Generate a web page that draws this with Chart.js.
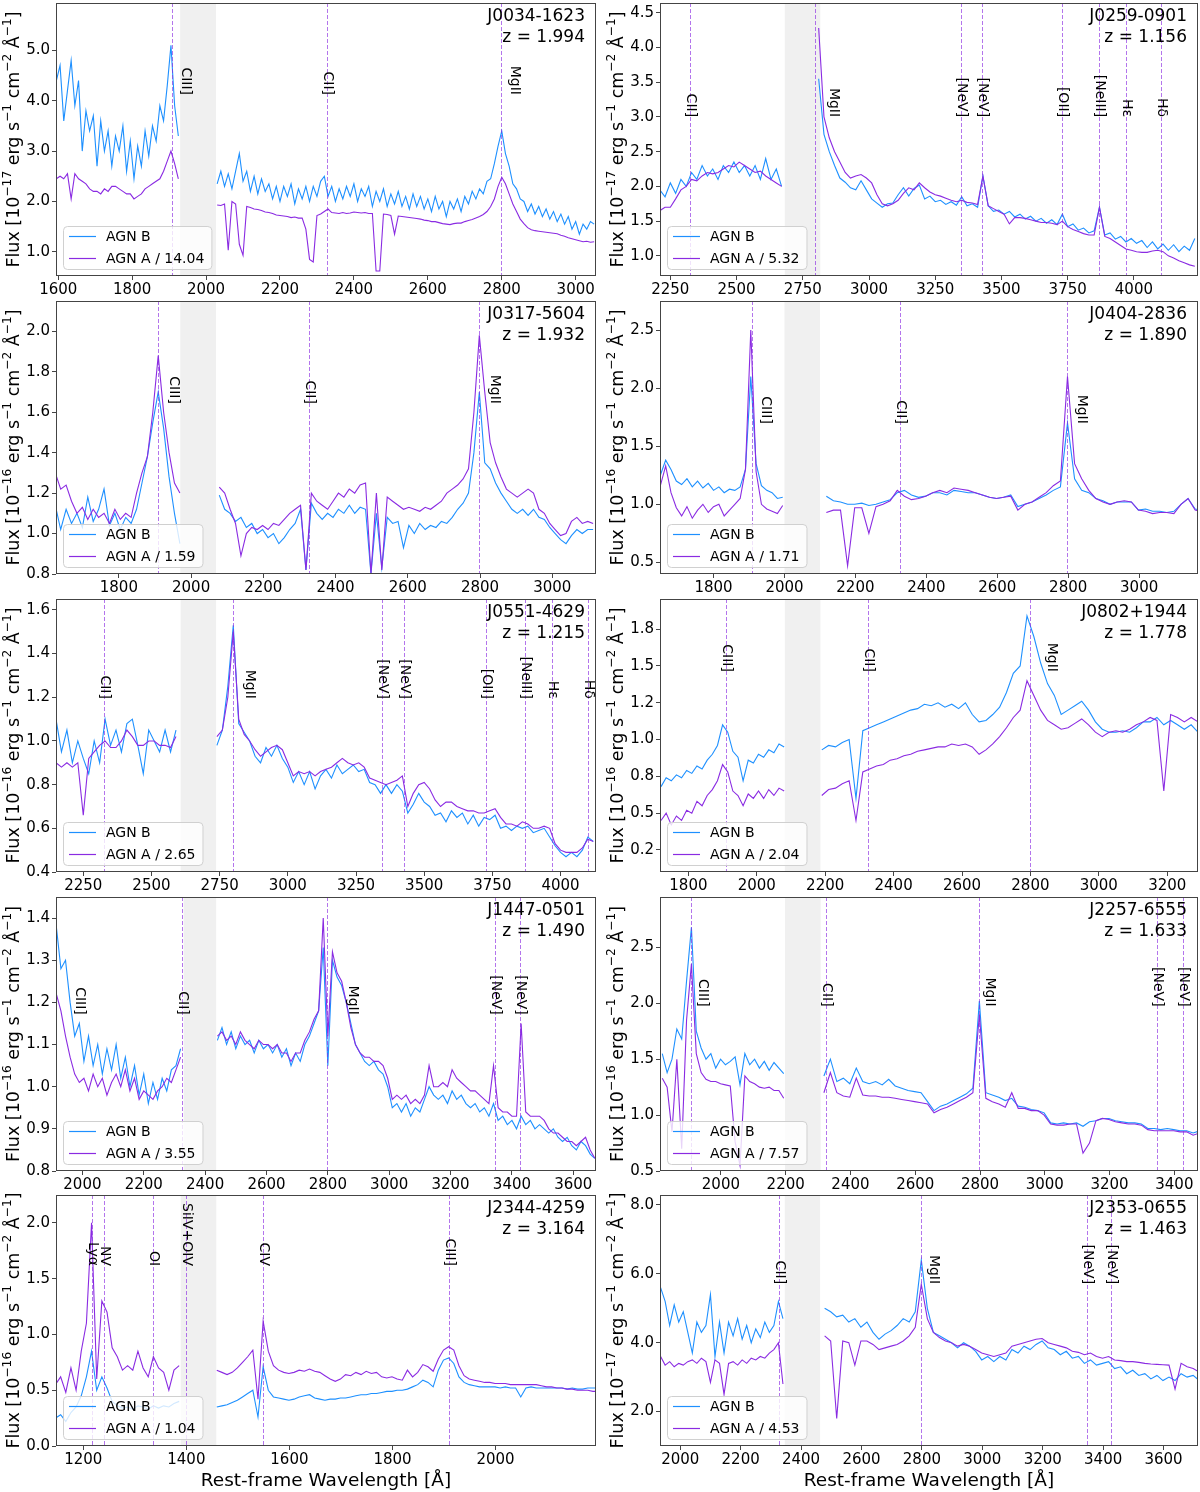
<!DOCTYPE html>
<html>
<head>
<meta charset="utf-8">
<script src="https://cdn.jsdelivr.net/npm/chart.js@4.4.1/dist/chart.umd.min.js"></script>
<style>
html, body { margin: 0; padding: 0; background: #fff; }
#wrap { position: relative; width: 1200px; height: 1492px; }
canvas { position: absolute; }
</style>
</head>
<body>
<div id="wrap"></div>
<script>
// ---- J0034-1623 ----
const J0034_GRID = [[1595, 10], [2030, 10]];
const J0034_B1 = [4.4,4.7,3.6,4.2,4.8,3.9,4.4,3.0,3.8,3.4, 3.7,2.7,3.6,3.0,3.4,2.7,3.3,3.0,3.5,2.6, 3.2,2.45,3.1,2.7,3.4,2.9,3.5,3.2,3.9,3.6, 4.3,5.1,3.9,3.3];
const J0034_A1 = [2.45,2.5,2.45,2.55,2.05,2.55,2.45,2.4,2.35,2.25, 2.2,2.2,2.15,2.25,2.2,2.3,2.3,2.25,2.2,2.15, 2.15,2.05,2.1,2.15,2.25,2.3,2.35,2.4,2.45,2.6, 2.8,3.0,2.75,2.45];
const J0034_B2 = [2.35,2.6,2.3,2.55,2.25,2.6,2.95,2.4,2.6,2.2, 2.5,2.15,2.45,2.2,2.35,2.05,2.3,2.0,2.3,2.1, 2.35,1.95,2.25,2.05,2.3,2.0,2.3,2.1,2.4,2.5, 2.1,2.3,2.0,2.25,2.05,2.3,2.1,2.35,2.0,2.25, 2.1,2.3,1.9,2.2,2.0,2.25,1.9,2.15,1.95,2.2, 1.9,2.1,1.85,2.15,1.9,2.1,1.85,2.05,1.8,2.1, 1.85,2.0,1.7,2.0,1.85,2.05,1.8,2.1,1.95,2.2, 2.05,2.25,2.15,2.4,2.45,2.75,3.1,3.4,2.95,2.7, 2.35,2.25,2.05,2.0,1.8,1.95,1.75,1.9,1.7,1.85, 1.65,1.8,1.6,1.75,1.55,1.7,1.45,1.6,1.35,1.55, 1.45,1.6,1.55];
const J0034_A2 = [1.93,1.92,1.95,1.03,2.0,1.95,1.15,0.93,1.9,1.88, 1.85,1.84,1.82,1.79,1.78,1.76,1.73,1.72,1.71,1.7, 1.68,1.69,1.67,1.67,1.45,0.85,0.8,1.72,1.75,1.8, 1.85,1.78,1.77,1.76,1.78,1.76,1.77,1.79,1.78,1.77, 1.78,1.76,1.76,0.62,0.62,1.75,1.74,1.72,1.35,1.71, 1.7,1.69,1.68,1.67,1.66,1.65,1.63,1.62,1.6,1.6, 1.58,1.56,1.55,1.54,1.56,1.57,1.57,1.6,1.62,1.64, 1.67,1.7,1.74,1.8,1.9,2.05,2.3,2.48,2.35,2.15, 1.95,1.8,1.65,1.56,1.48,1.44,1.42,1.41,1.4,1.39, 1.38,1.37,1.36,1.33,1.31,1.28,1.26,1.24,1.22,1.2, 1.21,1.19,1.2];
const J0034_XT = [1600, 1800, 2000, 2200, 2400, 2600, 2800, 3000];
const J0034_YT = [1, 2, 3, 4, 5];
const J0034_YL = ['1.0', '2.0', '3.0', '4.0', '5.0'];
const J0034_LINES = [[1909, 'CIII]', 13], [2326, 'CII]', 0], [2798, 'MgII', 13]];

// ---- J0259-0901 ----
const J0259_GRID = [[2210, 20], [2810, 20]];
const J0259_B1 = [1.95,1.85,2.05,1.9,2.1,2.0,2.2,2.1,2.3,2.15, 2.25,2.1,2.3,2.2,2.35,2.2,2.3,2.15,2.3,2.1, 2.4,2.1,2.25,2.0];
const J0259_A1 = [1.65,1.7,1.7,1.82,1.95,2.0,2.1,2.08,2.15,2.2, 2.18,2.2,2.25,2.3,2.28,2.35,2.3,2.25,2.2,2.22, 2.15,2.1,2.05,2.0];
const J0259_B2 = [3.55,2.75,2.5,2.3,2.12,2.06,1.98,1.95,2.08,1.95, 1.82,1.76,1.7,1.75,1.76,1.88,1.98,1.86,1.97,2.02, 1.82,1.86,1.78,1.8,1.74,1.78,1.73,1.85,1.72,1.75, 1.7,2.15,1.72,1.64,1.66,1.6,1.64,1.56,1.6,1.53, 1.57,1.5,1.54,1.47,1.52,1.45,1.6,1.42,1.46,1.37, 1.4,1.33,1.36,1.7,1.3,1.33,1.24,1.28,1.2,1.25, 1.18,1.22,1.12,1.2,1.1,1.17,1.08,1.16,1.06,1.14, 1.08,1.25];
const J0259_A2 = [4.28,3.0,2.7,2.5,2.35,2.2,2.12,2.15,2.17,2.12, 2.05,1.88,1.75,1.72,1.75,1.8,1.9,1.98,1.95,2.05, 1.98,1.92,1.88,1.86,1.83,1.8,1.78,1.8,1.77,1.76, 1.74,2.15,1.72,1.68,1.64,1.6,1.46,1.55,1.55,1.54, 1.52,1.5,1.48,1.48,1.47,1.45,1.5,1.42,1.38,1.35, 1.32,1.3,1.3,1.7,1.28,1.25,1.2,1.15,1.1,1.08, 1.06,1.05,1.05,1.07,1.08,1.06,1.0,0.97,0.93,0.9, 0.87,0.85];
const J0259_XT = [2250, 2500, 2750, 3000, 3250, 3500, 3750, 4000];
const J0259_YT = [1.0, 1.5, 2.0, 2.5, 3.0, 3.5, 4.0, 4.5];
const J0259_YL = ['1.0', '1.5', '2.0', '2.5', '3.0', '3.5', '4.0', '4.5'];
const J0259_LINES = [[2326, 'CII]', 0], [2798, 'MgII', 18], [3346, '[NeV]', 0], [3426, '[NeV]', 0], [3727, '[OII]', 0], [3869, '[NeIII]', 0], [3970, 'H\u03b5', 0], [4102, 'H\u03b4', 0]];

// ---- J0317-5604 ----
const J0317_GRID = [[1624, 15], [2078, 15]];
const J0317_B1 = [1.14,1.02,1.12,1.05,1.1,1.03,1.18,1.06,1.12,1.22, 1.04,1.1,1.02,1.08,1.05,1.12,1.25,1.38,1.55,1.7, 1.52,1.28,1.1,0.95];
const J0317_A1 = [1.3,1.22,1.24,1.16,1.1,1.13,1.07,1.12,1.08,1.1, 1.05,1.12,1.07,1.1,1.08,1.2,1.3,1.38,1.6,1.88, 1.6,1.4,1.25,1.2];
const J0317_B2 = [1.19,1.12,1.1,1.06,1.08,1.03,1.05,1.0,1.02,0.98, 1.0,0.95,0.98,1.02,1.05,1.12,0.82,1.15,1.1,1.07, 1.1,1.08,1.12,1.1,1.14,1.1,1.13,1.12,0.8,1.1, 0.83,1.08,1.05,1.06,0.93,1.04,1.0,1.05,1.02,1.04, 1.03,1.06,1.05,1.08,1.12,1.15,1.2,1.4,1.7,1.35, 1.32,1.25,1.2,1.16,1.12,1.1,1.12,1.09,1.12,1.08, 1.07,1.03,1.0,0.97,0.95,0.99,1.02,1.0,1.02,1.02];
const J0317_A2 = [1.23,1.2,1.12,1.05,0.89,1.0,1.03,1.02,1.04,1.02, 1.05,1.04,1.07,1.1,1.12,1.14,0.82,1.2,1.16,1.14, 1.12,1.16,1.2,1.18,1.22,1.2,1.24,1.25,0.8,1.2, 0.82,1.18,1.16,1.14,1.12,1.13,1.12,1.11,1.13,1.12, 1.14,1.16,1.2,1.22,1.24,1.27,1.32,1.6,1.98,1.7, 1.45,1.35,1.28,1.22,1.2,1.18,1.2,1.22,1.2,1.12, 1.1,1.05,1.02,0.99,1.0,1.06,1.08,1.05,1.06,1.05];
const J0317_XT = [1800, 2000, 2200, 2400, 2600, 2800, 3000];
const J0317_YT = [0.8, 1.0, 1.2, 1.4, 1.6, 1.8, 2.0];
const J0317_YL = ['0.8', '1.0', '1.2', '1.4', '1.6', '1.8', '2.0'];
const J0317_LINES = [[1909, 'CIII]', 15], [2326, 'CII]', 0], [2798, 'MgII', 15]];

// ---- J0404-2836 ----
const J0404_GRID = [[1650, 15], [2118, 20]];
const J0404_B1 = [1.25,1.38,1.3,1.2,1.17,1.22,1.15,1.2,1.14,1.18, 1.12,1.15,1.1,1.13,1.12,1.15,1.3,2.1,1.35,1.16, 1.12,1.1,1.05,1.06];
const J0404_A1 = [1.16,1.33,1.1,0.97,0.9,0.98,0.88,0.95,1.0,0.93, 0.98,1.0,0.9,0.95,1.0,1.05,1.3,2.5,1.28,1.0, 0.96,0.94,0.92,0.99];
const J0404_B2 = [1.07,1.03,1.02,1.0,1.0,1.01,0.99,1.0,1.02,1.04, 1.1,1.12,1.08,1.06,1.07,1.1,1.1,1.08,1.12,1.11, 1.1,1.1,1.08,1.06,1.05,1.06,1.08,0.98,1.0,1.02, 1.05,1.08,1.12,1.15,1.7,1.22,1.12,1.1,1.05,1.03, 1.0,1.02,1.02,1.02,0.95,0.96,0.94,0.94,0.93,0.94, 1.0,1.05,0.96,0.95];
const J0404_A2 = [0.93,0.95,0.95,0.47,0.97,0.97,0.75,0.98,1.0,1.03, 1.12,1.07,1.04,1.05,1.07,1.1,1.12,1.1,1.14,1.13, 1.12,1.1,1.08,1.06,1.05,1.06,1.07,0.95,1.0,1.02, 1.06,1.1,1.16,1.2,2.1,1.35,1.22,1.12,1.05,1.02, 1.0,1.02,1.03,1.02,0.95,0.94,0.92,0.93,0.93,0.92, 1.0,1.05,0.95,0.94];
const J0404_XT = [1800, 2000, 2200, 2400, 2600, 2800, 3000];
const J0404_YT = [0.5, 1.0, 1.5, 2.0, 2.5];
const J0404_YL = ['0.5', '1.0', '1.5', '2.0', '2.5'];
const J0404_LINES = [[1909, 'CIII]', 13], [2326, 'CII]', 0], [2798, 'MgII', 14]];

// ---- J0551-4629 ----
const J0551_GRID = [[2150, 20], [2740, 20]];
const J0551_B1 = [1.1,0.95,1.05,0.9,1.0,0.92,0.85,1.0,0.9,1.1, 0.98,1.05,0.95,1.08,1.1,0.98,0.85,1.05,1.0,0.95, 1.05,0.95,1.05];
const J0551_A1 = [0.9,0.88,0.9,0.88,0.9,0.66,0.92,0.95,0.98,1.0, 0.97,0.97,1.0,1.05,1.02,0.98,0.98,1.0,1.0,0.98, 0.98,0.97,1.02];
const J0551_B2 = [0.98,1.05,1.25,1.53,1.08,1.04,1.0,0.93,0.9,0.97, 0.93,0.98,0.92,0.88,0.81,0.86,0.8,0.86,0.78,0.84, 0.87,0.83,0.89,0.85,0.87,0.89,0.86,0.87,0.81,0.8, 0.76,0.8,0.76,0.8,0.77,0.67,0.71,0.76,0.72,0.7, 0.66,0.67,0.63,0.68,0.65,0.67,0.62,0.66,0.61,0.65, 0.64,0.66,0.6,0.61,0.59,0.61,0.6,0.61,0.58,0.59, 0.6,0.56,0.52,0.49,0.47,0.49,0.47,0.5,0.56,0.54];
const J0551_A2 = [1.02,1.05,1.2,1.5,1.1,1.03,1.0,0.96,0.93,0.95, 0.97,0.98,0.96,0.9,0.84,0.86,0.85,0.86,0.84,0.86, 0.87,0.88,0.9,0.92,0.9,0.89,0.9,0.88,0.83,0.82, 0.81,0.8,0.81,0.82,0.84,0.7,0.76,0.8,0.81,0.78, 0.73,0.7,0.72,0.72,0.7,0.69,0.68,0.68,0.67,0.67, 0.68,0.69,0.65,0.62,0.62,0.61,0.63,0.62,0.6,0.6, 0.61,0.6,0.53,0.5,0.49,0.49,0.49,0.51,0.55,0.54];
const J0551_XT = [2250, 2500, 2750, 3000, 3250, 3500, 3750, 4000];
const J0551_YT = [0.4, 0.6, 0.8, 1.0, 1.2, 1.4, 1.6];
const J0551_YL = ['0.4', '0.6', '0.8', '1.0', '1.2', '1.4', '1.6'];
const J0551_LINES = [[2326, 'CII]', 0], [2798, 'MgII', 16], [3346, '[NeV]', 0], [3426, '[NeV]', 0], [3727, '[OII]', 0], [3869, '[NeIII]', 0], [3970, 'H\u03b5', 0], [4102, 'H\u03b4', 0]];

// ---- J0802+1944 ----
const J0802_GRID = [[1720, 15], [2190, 20]];
const J0802_B1 = [0.68,0.74,0.72,0.76,0.74,0.79,0.77,0.82,0.8,0.86, 0.9,0.96,1.1,1.05,0.92,0.88,0.72,0.86,0.84,0.9, 0.88,0.93,0.91,0.97,0.95];
const J0802_A1 = [0.45,0.5,0.42,0.48,0.45,0.52,0.5,0.58,0.55,0.62, 0.66,0.72,0.83,0.78,0.65,0.62,0.55,0.63,0.6,0.65, 0.6,0.66,0.62,0.67,0.65];
const J0802_B2 = [0.93,0.96,0.95,0.98,1.0,0.6,1.06,1.08,1.1,1.12, 1.14,1.16,1.18,1.2,1.21,1.24,1.23,1.25,1.22,1.24, 1.21,1.25,1.17,1.12,1.13,1.17,1.22,1.32,1.45,1.5, 1.84,1.7,1.52,1.38,1.3,1.17,1.2,1.23,1.26,1.2, 1.12,1.07,1.05,1.05,1.06,1.05,1.08,1.12,1.12,1.15, 1.1,1.13,1.1,1.07,1.1,1.05];
const J0802_A2 = [0.62,0.66,0.67,0.7,0.72,0.45,0.78,0.8,0.82,0.83, 0.86,0.87,0.89,0.9,0.92,0.93,0.94,0.95,0.95,0.97, 0.96,0.97,0.95,0.9,0.93,0.97,1.02,1.08,1.15,1.2, 1.4,1.3,1.2,1.13,1.1,1.07,1.08,1.11,1.14,1.1, 1.05,1.02,1.05,1.06,1.05,1.07,1.1,1.12,1.15,1.13, 0.65,1.17,1.15,1.12,1.15,1.12];
const J0802_XT = [1800, 2000, 2200, 2400, 2600, 2800, 3000, 3200];
const J0802_YT = [0.25, 0.5, 0.75, 1.0, 1.25, 1.5, 1.75];
const J0802_YL = ['0.2', '0.5', '0.8', '1.0', '1.2', '1.5', '1.8'];
const J0802_LINES = [[1909, 'CIII]', 0], [2326, 'CII]', 0], [2798, 'MgII', 21]];

// ---- J1447-0501 ----
const J1447_GRID = [[1915, 15], [2440, 15]];
const J1447_B1 = [1.38,1.28,1.3,1.2,1.12,1.15,1.06,1.12,1.05,1.1, 1.03,1.09,1.04,1.1,1.02,1.07,1.0,1.05,0.98,1.03, 0.96,1.01,0.97,1.02,0.99,1.04,1.05,1.09];
const J1447_A1 = [1.22,1.18,1.12,1.07,1.03,1.01,1.02,0.99,1.03,1.0, 1.02,0.98,1.01,1.03,1.0,1.04,0.99,1.02,0.97,0.99, 0.98,0.97,0.99,1.0,1.02,1.01,1.04,1.07];
const J1447_B2 = [1.11,1.14,1.1,1.13,1.09,1.12,1.1,1.11,1.08,1.11, 1.09,1.1,1.08,1.1,1.07,1.09,1.05,1.08,1.06,1.1, 1.12,1.15,1.18,1.33,1.05,1.3,1.26,1.24,1.2,1.15, 1.1,1.08,1.06,1.05,1.06,1.04,1.03,1.0,0.95,0.96, 0.94,0.96,0.93,0.95,0.94,0.97,1.0,0.98,0.97,0.98, 0.96,0.99,0.97,0.98,0.96,0.95,0.96,0.94,0.95,0.93, 0.96,0.92,0.93,0.91,0.92,0.9,0.93,0.91,0.92,0.9, 0.91,0.9,0.89,0.9,0.88,0.87,0.88,0.86,0.85,0.87, 0.86,0.84,0.83];
const J1447_A2 = [1.12,1.13,1.11,1.12,1.1,1.13,1.11,1.1,1.09,1.11, 1.1,1.1,1.09,1.1,1.08,1.08,1.06,1.08,1.08,1.11, 1.13,1.16,1.18,1.4,1.12,1.32,1.27,1.25,1.2,1.14, 1.1,1.08,1.07,1.07,1.06,1.06,1.05,1.02,0.97,0.98, 0.97,0.98,0.96,0.97,0.96,0.98,1.05,1.0,1.0,1.01, 1.0,1.04,1.02,1.01,1.0,0.99,0.99,0.98,0.97,0.96, 1.05,0.95,0.94,0.94,0.93,0.93,1.15,0.94,0.93,0.93, 0.93,0.92,0.9,0.89,0.89,0.88,0.87,0.87,0.86,0.87, 0.88,0.85,0.83];
const J1447_XT = [2000, 2200, 2400, 2600, 2800, 3000, 3200, 3400, 3600];
const J1447_YT = [0.8, 0.9, 1.0, 1.1, 1.2, 1.3, 1.4];
const J1447_YL = ['0.8', '0.9', '1.0', '1.1', '1.2', '1.3', '1.4'];
const J1447_LINES = [[1909, 'CIII]', 25], [2326, 'CII]', 0], [2798, 'MgII', 25], [3346, '[NeV]', 0], [3426, '[NeV]', 0]];

// ---- J2257-6555 ----
const J2257_GRID = [[1819, 15], [2318, 20]];
const J2257_B1 = [1.55,1.38,1.5,1.77,1.68,2.2,2.68,1.75,1.6,1.5, 1.55,1.42,1.5,1.45,1.48,1.52,1.27,1.55,1.45,1.5, 1.42,1.48,1.4,1.47,1.42,1.37];
const J2257_A1 = [1.33,1.25,0.85,1.5,0.7,1.85,2.35,1.55,1.38,1.32, 1.3,1.3,1.28,1.27,1.26,0.76,0.55,1.35,1.3,1.28, 1.25,1.24,1.25,1.22,1.22,1.15];
const J2257_B2 = [1.35,1.5,1.3,1.33,1.28,1.42,1.3,1.28,1.3,1.27, 1.32,1.26,1.24,1.22,1.21,1.2,1.12,1.04,1.08,1.1, 1.13,1.16,1.19,1.24,2.02,1.2,1.18,1.16,1.13,1.15, 1.08,1.07,1.05,1.04,1.02,0.93,0.92,0.93,0.92,0.93, 0.9,0.94,0.95,0.97,0.97,0.95,0.94,0.93,0.93,0.92, 0.88,0.88,0.87,0.88,0.87,0.86,0.86,0.84,0.86];
const J2257_A2 = [1.2,1.38,1.2,1.17,1.16,1.33,1.18,1.17,1.17,1.16, 1.16,1.15,1.14,1.13,1.12,1.11,1.1,1.02,1.05,1.07, 1.1,1.13,1.16,1.2,1.9,1.15,1.12,1.1,1.07,1.2, 1.06,1.06,1.04,1.04,1.0,0.92,0.91,0.91,0.92,0.92, 0.66,0.75,0.95,0.97,0.96,0.94,0.93,0.92,0.92,0.91, 0.87,0.86,0.86,0.86,0.86,0.85,0.85,0.82,0.84];
const J2257_XT = [2000, 2200, 2400, 2600, 2800, 3000, 3200, 3400];
const J2257_YT = [0.5, 1.0, 1.5, 2.0, 2.5];
const J2257_YL = ['0.5', '1.0', '1.5', '2.0', '2.5'];
const J2257_LINES = [[1909, 'CIII]', 11], [2326, 'CII]', 0], [2798, 'MgII', 10], [3346, '[NeV]', 0], [3426, '[NeV]', 0]];

// ---- J2344-4259 ----
const J2344_GRID = [[1146, 10], [1459, 10]];
const J2344_B1 = [0.25,0.28,0.22,0.3,0.35,0.45,0.62,0.85,0.5,0.62, 0.52,0.4,0.36,0.34,0.35,0.33,0.36,0.35,0.33,0.36, 0.34,0.36,0.35,0.38,0.4];
const J2344_A1 = [0.55,0.62,0.48,0.7,0.5,0.85,1.1,2.0,0.6,1.3, 1.2,0.88,0.8,0.68,0.72,0.68,0.85,0.7,0.62,0.8, 0.7,0.66,0.5,0.68,0.72];
const J2344_B2 = [0.35,0.36,0.37,0.39,0.41,0.44,0.47,0.5,0.26,0.71, 0.5,0.44,0.43,0.42,0.41,0.42,0.44,0.45,0.46,0.43, 0.42,0.41,0.42,0.42,0.43,0.43,0.44,0.45,0.46,0.46, 0.47,0.47,0.48,0.49,0.49,0.5,0.5,0.51,0.53,0.55, 0.59,0.57,0.53,0.68,0.77,0.79,0.74,0.62,0.57,0.55, 0.54,0.53,0.53,0.53,0.53,0.52,0.53,0.52,0.52,0.44, 0.52,0.53,0.52,0.52,0.52,0.52,0.52,0.52,0.51,0.52, 0.51,0.51,0.52,0.52,0.52];
const J2344_A2 = [0.68,0.66,0.64,0.66,0.7,0.75,0.8,0.86,0.42,1.12, 0.85,0.72,0.68,0.66,0.65,0.66,0.68,0.67,0.69,0.67, 0.66,0.63,0.6,0.58,0.6,0.64,0.63,0.66,0.64,0.67, 0.65,0.66,0.62,0.61,0.62,0.6,0.59,0.68,0.62,0.66, 0.73,0.71,0.67,0.78,0.86,0.89,0.86,0.72,0.63,0.6, 0.59,0.58,0.57,0.57,0.56,0.56,0.56,0.55,0.55,0.55, 0.55,0.55,0.55,0.54,0.53,0.53,0.52,0.52,0.51,0.51, 0.5,0.5,0.5,0.49,0.49];
const J2344_XT = [1200, 1400, 1600, 1800, 2000];
const J2344_YT = [0.0, 0.5, 1.0, 1.5, 2.0];
const J2344_YL = ['0.0', '0.5', '1.0', '1.5', '2.0'];
const J2344_LINES = [[1216, 'Ly\u03b1', 0], [1240, 'NV', 0], [1336, 'OI', 0], [1400, 'SiIV+OIV', 0], [1549, 'CIV', 0], [1909, 'CIII]', 0]];

// ---- J2353-0655 ----
const J2353_GRID = [[1935, 15], [2478, 20]];
const J2353_B1 = [5.6,5.2,4.5,5.1,4.6,4.9,4.3,3.7,4.6,4.3, 4.5,5.4,3.6,4.6,3.7,4.6,4.2,4.7,4.1,4.5, 4.0,4.4,4.15,4.6,4.3,4.5,5.2,4.7];
const J2353_A1 = [3.6,3.35,3.45,3.3,3.4,3.35,3.45,3.5,3.4,3.55, 3.45,2.85,3.5,3.4,2.5,3.4,3.45,3.35,3.5,3.4, 3.55,3.5,3.6,3.55,3.7,3.8,4.0,2.8];
const J2353_B2 = [5.0,4.9,4.75,4.8,4.6,4.7,4.45,4.6,4.3,4.1, 4.25,4.35,4.5,4.7,4.6,4.9,6.4,5.0,4.3,4.2, 4.1,4.0,3.85,4.0,3.9,3.75,3.5,3.6,3.45,3.6, 3.5,3.8,3.7,3.9,3.8,3.95,4.05,3.85,3.8,3.65, 3.75,3.55,3.6,3.4,3.5,3.35,3.4,3.45,3.25,3.3, 3.1,3.2,3.05,3.1,2.95,3.05,2.9,3.0,2.9,3.1, 3.0,3.05,2.9];
const J2353_A2 = [4.2,4.05,1.8,4.05,4.0,3.35,4.05,4.05,3.95,3.8, 3.85,3.9,3.95,4.05,4.2,4.45,5.7,4.7,4.3,4.15, 4.05,4.0,3.9,3.95,3.9,3.8,3.7,3.65,3.6,3.65, 3.7,3.9,3.95,4.0,4.05,4.1,4.12,4.0,3.95,3.9, 3.85,3.75,3.72,3.65,3.7,3.6,3.55,3.6,3.5,3.48, 3.45,3.45,3.43,3.4,3.38,3.37,3.36,3.35,2.65,3.4, 3.3,3.25,3.15];
const J2353_XT = [2000, 2200, 2400, 2600, 2800, 3000, 3200, 3400, 3600];
const J2353_YT = [2, 4, 6, 8];
const J2353_YL = ['2.0', '4.0', '6.0', '8.0'];
const J2353_LINES = [[2326, 'CII]', 0], [2798, 'MgII', 12], [3346, '[NeV]', 0], [3426, '[NeV]', 0]];

const NAMES = ['J0034-1623', 'J0259-0901', 'J0317-5604', 'J0404-2836', 'J0551-4629', 'J0802+1944', 'J1447-0501', 'J2257-6555', 'J2344-4259', 'J2353-0655'];
const REDSHIFTS = ['1.994', '1.156', '1.932', '1.890', '1.215', '1.778', '1.490', '1.633', '3.164', '1.463'];
const DIVISORS = ['14.04', '5.32', '1.59', '1.71', '2.65', '2.04', '3.55', '7.57', '1.04', '4.53'];
const EXPONENTS = ['17', '17', '16', '16', '16', '16', '16', '16', '16', '17'];

const FONT = "'DejaVu Sans', sans-serif";
const BLUE = '#1e90ff';
const PURPLE = '#8a2be2';

// axis limits, masked band and label height for each panel
const panels = [
    { grid: J0034_GRID, b: [J0034_B1, J0034_B2], a: [J0034_A1, J0034_A2], xt: J0034_XT, yt: J0034_YT, yl: J0034_YL, lines: J0034_LINES, xr: [1594, 3055], yr: [0.52, 5.94], band: [1930, 2027], lab: 0.337 },
    { grid: J0259_GRID, b: [J0259_B1, J0259_B2], a: [J0259_A1, J0259_A2], xt: J0259_XT, yt: J0259_YT, yl: J0259_YL, lines: J0259_LINES, xr: [2211, 4242], yr: [0.71, 4.64], band: [2682, 2816], lab: 0.418 },
    { grid: J0317_GRID, b: [J0317_B1, J0317_B2], a: [J0317_A1, J0317_A2], xt: J0317_XT, yt: J0317_YT, yl: J0317_YL, lines: J0317_LINES, xr: [1626, 3121], yr: [0.8, 2.15], band: [1970, 2069], lab: 0.377 },
    { grid: J0404_GRID, b: [J0404_B1, J0404_B2], a: [J0404_A1, J0404_A2], xt: J0404_XT, yt: J0404_YT, yl: J0404_YL, lines: J0404_LINES, xr: [1649, 3166], yr: [0.40, 2.75], band: [2000, 2100], lab: 0.45 },
    { grid: J0551_GRID, b: [J0551_B1, J0551_B2], a: [J0551_A1, J0551_A2], xt: J0551_XT, yt: J0551_YT, yl: J0551_YL, lines: J0551_LINES, xr: [2150, 4130], yr: [0.4, 1.65], band: [2607, 2737], lab: 0.366 },
    { grid: J0802_GRID, b: [J0802_B1, J0802_B2], a: [J0802_A1, J0802_A2], xt: J0802_XT, yt: J0802_YT, yl: J0802_YL, lines: J0802_LINES, xr: [1717, 3290], yr: [0.10, 1.955], band: [2082, 2186], lab: 0.267 },
    { grid: J1447_GRID, b: [J1447_B1, J1447_B2], a: [J1447_A1, J1447_A2], xt: J1447_XT, yt: J1447_YT, yl: J1447_YL, lines: J1447_LINES, xr: [1914, 3674], yr: [0.8, 1.45], band: [2330, 2436], lab: 0.43 },
    { grid: J2257_GRID, b: [J2257_B1, J2257_B2], a: [J2257_A1, J2257_A2], xt: J2257_XT, yt: J2257_YT, yl: J2257_YL, lines: J2257_LINES, xr: [1812, 3473], yr: [0.5, 2.95], band: [2198, 2308], lab: 0.40 },
    { grid: J2344_GRID, b: [J2344_B1, J2344_B2], a: [J2344_A1, J2344_A2], xt: J2344_XT, yt: J2344_YT, yl: J2344_YL, lines: J2344_LINES, xr: [1147, 2195], yr: [0.0, 2.25], band: [1389, 1458], lab: 0.283 },
    { grid: J2353_GRID, b: [J2353_B1, J2353_B2], a: [J2353_A1, J2353_A2], xt: J2353_XT, yt: J2353_YT, yl: J2353_YL, lines: J2353_LINES, xr: [1933, 3714], yr: [1.0, 8.29], band: [2346, 2463], lab: 0.355 }
];

function buildSeries(grid, segs) {
    const pts = [];
    segs.forEach((vals, k) => {
        const start = grid[k][0], step = grid[k][1];
        if (k > 0) pts.push({ x: start - step / 2, y: null });
        vals.forEach((v, i) => pts.push({ x: start + i * step, y: v }));
    });
    return pts;
}

function drawYTitle(ctx, cx, cy, exp) {
    const runs = [['Flux [10', 0], ['\u2212' + exp, 1], [' erg s', 0], ['\u22121', 1], [' cm', 0], ['\u22122', 1], [' \u00c5', 0], ['\u22121', 1], [']', 0]];
    const big = '17.5px ' + FONT, small = '12.2px ' + FONT;
    ctx.save();
    let total = 0;
    const widths = runs.map(r => {
        ctx.font = r[1] ? small : big;
        const w = ctx.measureText(r[0]).width;
        total += w;
        return w;
    });
    ctx.translate(cx, cy);
    ctx.rotate(-Math.PI / 2);
    ctx.fillStyle = '#000';
    ctx.textAlign = 'left';
    ctx.textBaseline = 'alphabetic';
    let xx = -total / 2;
    runs.forEach((r, i) => {
        ctx.font = r[1] ? small : big;
        ctx.fillText(r[0], xx, r[1] ? -2 : 6);
        xx += widths[i];
    });
    ctx.restore();
}

function decor(idx, p, isBottom) {
    return {
        id: 'decor' + idx,
        beforeDatasetsDraw(chart) {
            const { ctx, chartArea: ca, scales } = chart;
            const x0 = Math.max(ca.left, scales.x.getPixelForValue(p.band[0]));
            const x1 = Math.min(ca.right, scales.x.getPixelForValue(p.band[1]));
            ctx.save();
            ctx.fillStyle = '#f0f0f0';
            ctx.fillRect(x0, ca.top, x1 - x0, ca.bottom - ca.top);
            ctx.restore();
        },
        afterDatasetsDraw(chart) {
            const { ctx, chartArea: ca, scales } = chart;
            const h = ca.bottom - ca.top;
            ctx.save();
            // emission line markers
            p.lines.forEach(([wl, label, dx]) => {
                const px = Math.round(scales.x.getPixelForValue(wl)) + 0.5;
                if (px > ca.left && px < ca.right) {
                    ctx.strokeStyle = 'rgba(138,43,226,0.65)';
                    ctx.lineWidth = 1;
                    ctx.setLineDash([4, 2]);
                    ctx.beginPath();
                    ctx.moveTo(px, ca.top);
                    ctx.lineTo(px, ca.bottom);
                    ctx.stroke();
                    ctx.setLineDash([]);
                }
                ctx.save();
                ctx.translate(px + dx, ca.top + p.lab * h);
                ctx.rotate(Math.PI / 2);
                ctx.font = '14px ' + FONT;
                ctx.fillStyle = '#000';
                ctx.textAlign = 'right';
                ctx.textBaseline = 'middle';
                ctx.fillText(label, 0, 0);
                ctx.restore();
            });

            // object name and redshift
            ctx.font = '17px ' + FONT;
            ctx.fillStyle = '#000';
            ctx.textAlign = 'right';
            ctx.textBaseline = 'alphabetic';
            ctx.fillText(NAMES[idx], ca.right - 11, ca.top + 18);
            ctx.fillText('z = ' + REDSHIFTS[idx], ca.right - 11, ca.top + 39);

            // legend
            ctx.font = '14px ' + FONT;
            const t1 = 'AGN B', t2 = 'AGN A / ' + DIVISORS[idx];
            const tw = Math.max(ctx.measureText(t1).width, ctx.measureText(t2).width);
            const bx = ca.left + 7, bh = 43, by = ca.bottom - 7 - bh, bw = 43 + tw + 7;
            ctx.beginPath();
            ctx.roundRect(bx + 0.5, by + 0.5, bw, bh, 4);
            ctx.fillStyle = 'rgba(255,255,255,0.8)';
            ctx.fill();
            ctx.strokeStyle = '#d0d0d0';
            ctx.lineWidth = 1;
            ctx.stroke();
            [[t1, BLUE, by + 10], [t2, PURPLE, by + 32]].forEach(([t, c, yy]) => {
                ctx.strokeStyle = c;
                ctx.lineWidth = 1.2;
                ctx.beginPath();
                ctx.moveTo(bx + 6, yy + 0.5);
                ctx.lineTo(bx + 33, yy + 0.5);
                ctx.stroke();
                ctx.fillStyle = '#000';
                ctx.textAlign = 'left';
                ctx.textBaseline = 'middle';
                ctx.fillText(t, bx + 43, yy + 1);
            });

            // frame
            ctx.strokeStyle = '#444';
            ctx.lineWidth = 1;
            ctx.strokeRect(ca.left + 0.5, ca.top + 0.5, ca.right - ca.left - 1, ca.bottom - ca.top - 1);
            ctx.restore();
        },
        afterDraw(chart) {
            const { ctx, chartArea: ca } = chart;
            drawYTitle(ctx, ca.left - 43, (ca.top + ca.bottom) / 2, EXPONENTS[idx]);
            if (isBottom) {
                ctx.save();
                ctx.font = '18.5px ' + FONT;
                ctx.fillStyle = '#000';
                ctx.textAlign = 'center';
                ctx.textBaseline = 'alphabetic';
                ctx.fillText('Rest-frame Wavelength [\u00c5]', (ca.left + ca.right) / 2, ca.bottom + 40);
                ctx.restore();
            }
        }
    };
}

const wrap = document.getElementById('wrap');

panels.forEach((p, i) => {
    const col = i % 2, row = Math.floor(i / 2);
    const isBottom = row === 4;
    // canvases of lower rows reach a little upward so the rotated axis title is not cut
    const off = row === 0 ? 0 : 10;
    const W = 600, H = (isBottom ? 300 : 298) + off;
    const plotLeft = col === 0 ? 56 : 60;
    const plotRight = col === 0 ? 596 : 598;
    const plotBottom = (isBottom ? 254 : (row === 3 ? 277 : 276)) + off;

    const canvas = document.createElement('canvas');
    canvas.width = W;
    canvas.height = H;
    canvas.style.left = (col * 600) + 'px';
    canvas.style.top = (row * 298 - off) + 'px';
    canvas.style.width = W + 'px';
    canvas.style.height = H + 'px';
    wrap.appendChild(canvas);

    new Chart(canvas.getContext('2d'), {
        type: 'line',
        data: {
            datasets: [
                { label: 'AGN B', data: buildSeries(p.grid, p.b), borderColor: BLUE, borderWidth: 1.1, pointRadius: 0, tension: 0, spanGaps: false, order: 1 },
                { label: 'AGN A / ' + DIVISORS[i], data: buildSeries(p.grid, p.a), borderColor: PURPLE, borderWidth: 1.1, pointRadius: 0, tension: 0, spanGaps: false, order: 0 }
            ]
        },
        options: {
            responsive: false,
            animation: false,
            devicePixelRatio: 1,
            layout: { padding: { left: 0, right: W - plotRight, top: 3 + off, bottom: 0 } },
            plugins: { legend: { display: false }, tooltip: { enabled: false } },
            scales: {
                x: {
                    type: 'linear',
                    min: p.xr[0],
                    max: p.xr[1],
                    afterBuildTicks: s => { s.ticks = p.xt.map(v => ({ value: v })); },
                    afterFit: s => { s.height = H - plotBottom; s.paddingLeft = 0; s.paddingRight = 0; },
                    ticks: {
                        autoSkip: false,
                        maxRotation: 0,
                        padding: 1,
                        color: '#000',
                        font: { family: FONT, size: 15 },
                        callback: (v, k) => String(p.xt[k])
                    },
                    grid: { display: true, drawOnChartArea: false, drawTicks: true, tickLength: 4, tickColor: '#444' },
                    border: { display: false }
                },
                y: {
                    type: 'linear',
                    min: p.yr[0],
                    max: p.yr[1],
                    afterBuildTicks: s => { s.ticks = p.yt.map(v => ({ value: v })); },
                    afterFit: s => { s.width = plotLeft; s.paddingTop = 0; s.paddingBottom = 0; },
                    ticks: {
                        autoSkip: false,
                        padding: 2,
                        color: '#000',
                        font: { family: FONT, size: 15 },
                        callback: (v, k) => p.yl[k]
                    },
                    grid: { display: true, drawOnChartArea: false, drawTicks: true, tickLength: 4, tickColor: '#444' },
                    border: { display: false }
                }
            }
        },
        plugins: [decor(i, p, isBottom)]
    });
});
</script>
</body>
</html>
